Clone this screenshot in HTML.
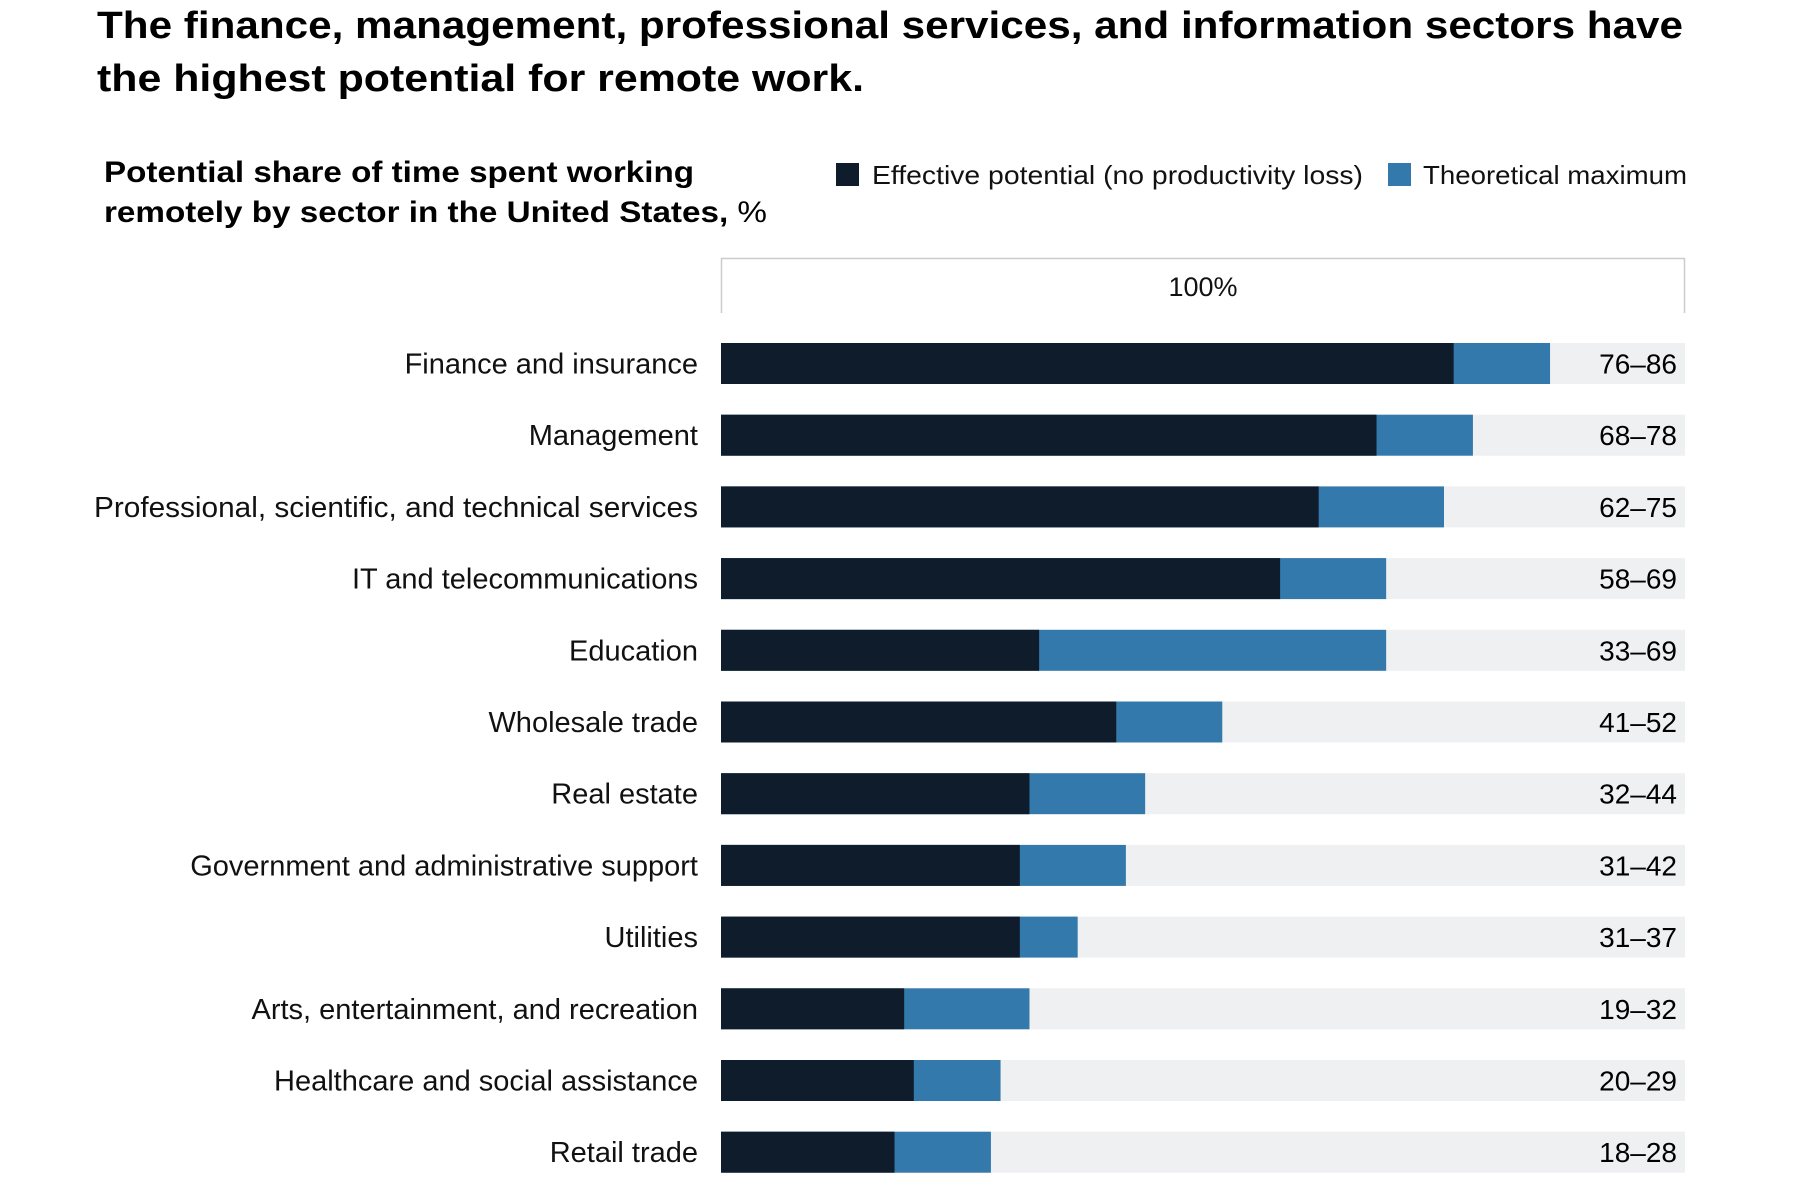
<!DOCTYPE html>
<html><head><meta charset="utf-8"><style>
html,body{margin:0;padding:0;background:#fff;}
svg{display:block;font-family:"Liberation Sans",sans-serif;}
</style></head><body>
<svg id="chart" width="1794" height="1192" viewBox="0 0 1794 1192">
<text x="97" y="38" font-size="38" font-weight="bold" fill="#000" textLength="1586" lengthAdjust="spacingAndGlyphs">The finance, management, professional services, and information sectors have</text>
<text x="97" y="91" font-size="38" font-weight="bold" fill="#000" textLength="767" lengthAdjust="spacingAndGlyphs">the highest potential for remote work.</text>
<text x="104" y="182" font-size="30" font-weight="bold" fill="#000" textLength="590" lengthAdjust="spacingAndGlyphs">Potential share of time spent working</text>
<text x="104" y="222" font-size="30" font-weight="bold" fill="#000" textLength="663" lengthAdjust="spacingAndGlyphs">remotely by sector in the United States, <tspan font-weight="normal">%</tspan></text>
<rect x="836" y="163" width="23" height="23" fill="#0e1c2c"/>
<text x="872" y="184" font-size="26" fill="#111" textLength="491" lengthAdjust="spacingAndGlyphs">Effective potential (no productivity loss)</text>
<rect x="1388" y="163" width="23" height="23" fill="#3479ab"/>
<text x="1423" y="184" font-size="26" fill="#111" textLength="264" lengthAdjust="spacingAndGlyphs">Theoretical maximum</text>
<path d="M721.5,313 V258.5 H1684.5 V313" fill="none" stroke="#ccc" stroke-width="1.5"/>
<text x="1203" y="296" font-size="27" fill="#111" text-anchor="middle">100%</text>
<g id="bars"></g>
</svg>
<script>
const categories = ["Finance and insurance","Management","Professional, scientific, and technical services","IT and telecommunications","Education","Wholesale trade","Real estate","Government and administrative support","Utilities","Arts, entertainment, and recreation","Healthcare and social assistance","Retail trade"];
const effective = [76,68,62,58,33,41,32,31,31,19,20,18];
const theoretical = [86,78,75,69,69,52,44,42,37,32,29,28];
const valueLabels = ["76–86","68–78","62–75","58–69","33–69","41–52","32–44","31–42","31–37","19–32","20–29","18–28"];

const NS = "http://www.w3.org/2000/svg";
const x0 = 721, x1 = 1685, yTop = 343, pitch = 71.7, bh = 41;
function xs(v){ return x0 + (x1 - x0) * v / 100; }
function ys(i){ return yTop + i * pitch; }
const g = document.getElementById("bars");
function mk(tag, attrs){ const e = document.createElementNS(NS, tag); for (const k in attrs) e.setAttribute(k, attrs[k]); g.appendChild(e); return e; }
categories.forEach((c, i) => {
  const y = ys(i);
  const bg = mk("rect", {x: xs(0), y: y, width: xs(100) - xs(0), height: bh, fill: "#eff0f2"});
  
  
  const t = mk("rect", {x: xs(0), y: y, width: xs(theoretical[i]) - xs(0), height: bh, fill: "#3479ab"});
  
  
  const e = mk("rect", {x: xs(0), y: y, width: xs(effective[i]) - xs(0), height: bh, fill: "#0e1c2c"});
  
  
  const lab = mk("text", {x: 698, y: y + bh/2 + 10, "font-size": 29, fill: "#111", "text-anchor": "end"});
  lab.textContent = c;
  if (c.length > 40) { lab.setAttribute("textLength", 604); lab.setAttribute("lengthAdjust", "spacingAndGlyphs"); }
  
  
  const v = mk("text", {x: 1677, y: y + bh/2 + 10, "font-size": 28, fill: "#000", "text-anchor": "end"});
  v.textContent = valueLabels[i];
  
  
});
</script>
</body></html>
